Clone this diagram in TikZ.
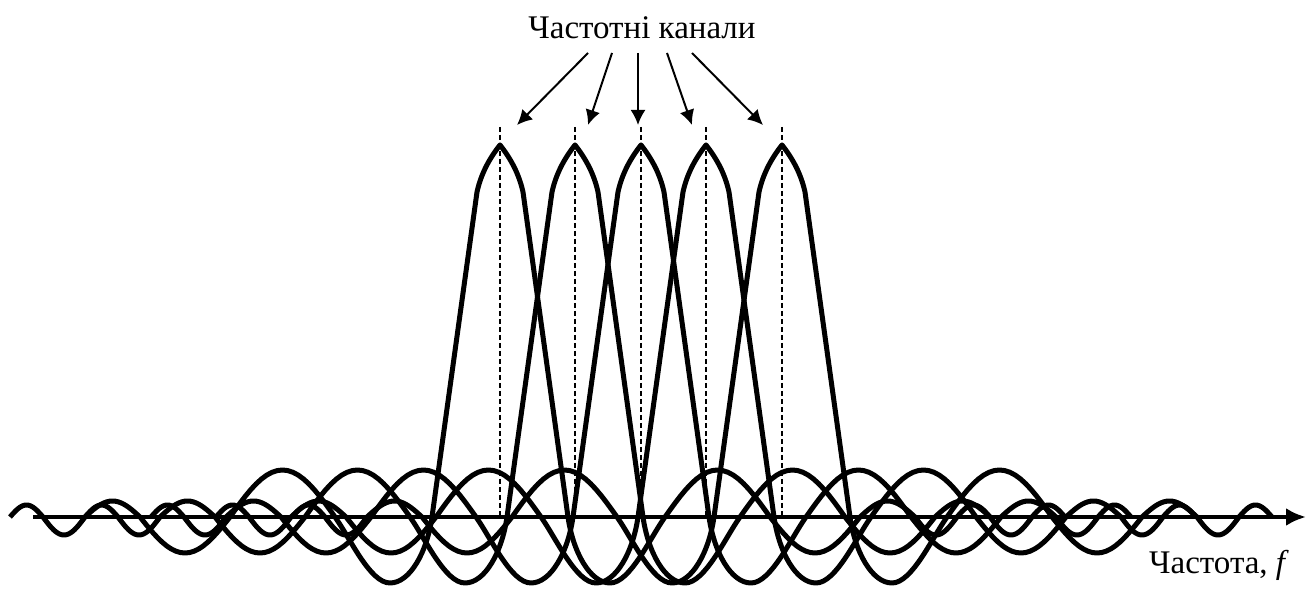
\documentclass[tikz,border=0pt]{standalone}
\usepackage{fontspec}
\setmainfont{Liberation Serif}
\usepackage{tikz}
\usetikzlibrary{arrows.meta, calc, positioning}

\begin{document}
\begin{tikzpicture}[x=0.5pt, y=-0.5pt, >={Latex[length=7.5pt, width=7.5pt]},
    kanal/.style={line width=2.5pt, line join=round},
    vis/.style={line width=2pt, -{Latex[length=10pt, width=9pt]}},
    pryama/.style={line width=1pt, ->},
    rysky/.style={line width=0.75pt, dash pattern=on 2.5pt off 1.5pt}]
    \useasboundingbox (0,0) rectangle (1312,592);

    % Підпис зверху та підпис осі частот
    \node[font=\fontsize{16.5}{20}\selectfont] (kanaly) at (642,28) {Частотні канали};
    \node[font=\fontsize{16.5}{20}\selectfont, anchor=east] (chastota) at (1296,565) {Частота, \textit{f}};

    % Вісь частот
    \coordinate (vis0) at (33,517);
    \coordinate (vis1) at (1306,517);
    \draw[vis] (vis0) -- (vis1);

    % Спектри каналів: бічні пелюстки, гострий головний пелюсток, штрихи та стрілки
    \foreach \i/\xs/\xe/\xc in {1/588/517/500, 2/612/588/575, 3/638/638/641, 4/667/692/706, 5/692/763/782}{
        \coordinate (s\i) at (\xs,53);
        \coordinate (e\i) at (\xe,125);
        \coordinate (d\i) at (\xc,127);
        \coordinate (b\i) at (\xc,515);
        \coordinate (p\i) at (\xc,145);
        \draw[rysky] (d\i) -- (b\i);
        \draw[kanal] (\xc-490,517)
            \foreach \s/\e/\a in {490/457/12, 457/415/-18, 415/360/16, 360/270/-36, 270/165/47}{
                -- plot[domain=0:1, samples=21] ({\xc-\s-(\e-\s)*\x}, {517-(\a)*sin(180*\x)})}
            .. controls (\xc-150,538) and (\xc-130,583) .. (\xc-110,583)
            .. controls (\xc-90,583) and (\xc-73,552) .. (\xc-68,517)
            -- ($(p\i)+(-23,47)$) .. controls ($(p\i)+(-19,29)$) and ($(p\i)+(-11,14)$) .. (p\i)
            .. controls ($(p\i)+(11,14)$) and ($(p\i)+(19,29)$) .. ($(p\i)+(23,47)$)
            -- (\xc+68,517) .. controls (\xc+73,552) and (\xc+90,583) .. (\xc+110,583)
            .. controls (\xc+130,583) and (\xc+150,538) .. (\xc+165,517)
            \foreach \s/\e/\a in {165/270/47, 270/360/-36, 360/415/16, 415/457/-18, 457/490/12}{
                -- plot[domain=0:1, samples=21] ({\xc+\s+(\e-\s)*\x}, {517-(\a)*sin(180*\x)})};
        \draw[pryama] (s\i) -- (e\i);
    }
\end{tikzpicture}
\end{document}
